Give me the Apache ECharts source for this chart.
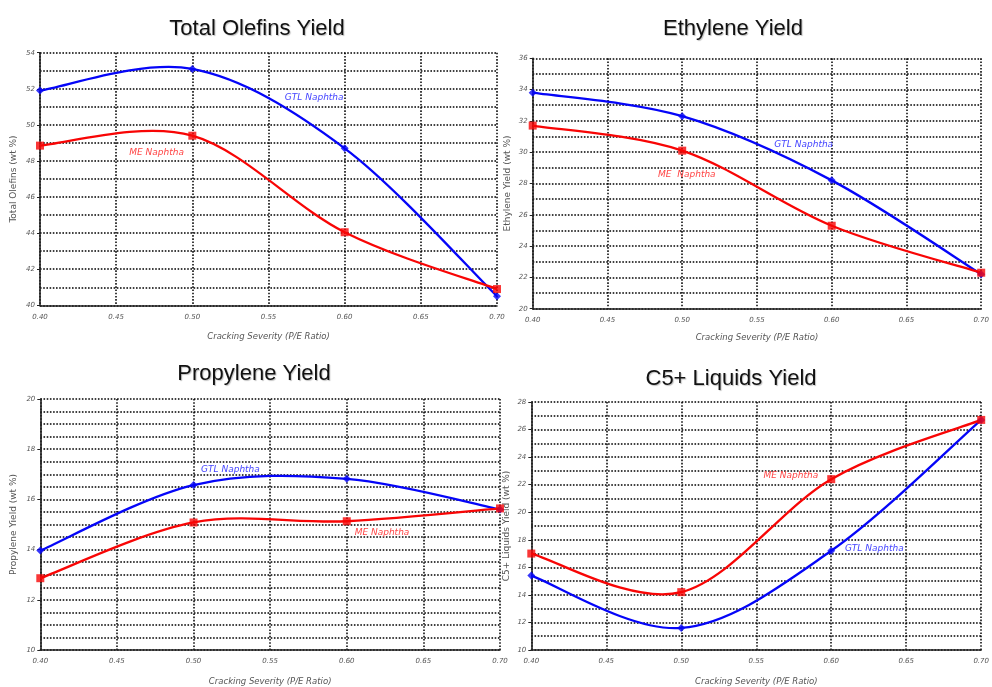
<!DOCTYPE html>
<html><head><meta charset="utf-8">
<script src="https://cdn.jsdelivr.net/npm/echarts@6/dist/echarts.min.js"></script>
<style>html,body{margin:0;padding:0;background:#fff}#c{width:992px;height:687px}</style>
</head><body><div id="c"></div>
<script>
// ---------------- data ----------------
const severity = [0.40, 0.50, 0.60, 0.70];
const seriesNames = ['GTL Naphtha', 'ME Naphtha'];

const olefinsGTL   = [51.9, 53.1, 48.7, 40.5];
const olefinsME    = [48.85, 49.4, 44.05, 40.9];
const ethyleneGTL  = [33.8, 32.3, 28.2, 22.2];
const ethyleneME   = [31.7, 30.1, 25.3, 22.3];
const propyleneGTL = [13.96, 16.57, 16.82, 15.6];
const propyleneME  = [12.86, 15.08, 15.13, 15.64];
const c5GTL        = [15.4, 11.6, 17.2, 26.7];
const c5ME         = [17.0, 14.2, 22.4, 26.7];

const titles = ['Total Olefins Yield', 'Ethylene Yield', 'Propylene Yield', 'C5+ Liquids Yield'];
const yNames = ['Total Olefins (wt %)', 'Ethylene Yield (wt %)', 'Propylene Yield (wt %)', 'C5+ Liquids Yield (wt %)'];
const xName = 'Cracking Severity (P/E Ratio)';
const meLabelText = ['ME Naphtha', 'ME  Naphtha', 'ME Naphtha', 'ME Naphtha'];

// ---------------- layout / style ----------------
const panels = [
  {gtl: olefinsGTL, me: olefinsME, ymin: 40, ymax: 54, ystep: 2, minor: 2,
   grid: {left: 40, top: 52.7, width: 457, height: 252.6},
   title: {x: 252, y: 13}, yGap: 22, xGap: 27,
   gtlLab: [0.580, 51.49], meLab: [0.4765, 48.46]},
  {gtl: ethyleneGTL, me: ethyleneME, ymin: 20, ymax: 36, ystep: 2, minor: 2,
   grid: {left: 532.7, top: 58.3, width: 454.3, height: 250.4},
   title: {x: 728, y: 13}, yGap: 21, xGap: 25,
   gtlLab: [0.5813, 30.46], meLab: [0.5031, 28.54]},
  {gtl: propyleneGTL, me: propyleneME, ymin: 10, ymax: 20, ystep: 2, minor: 4,
   grid: {left: 40.3, top: 399, width: 459.7, height: 254},
   title: {x: 249, y: 358}, yGap: 22, xGap: 27,
   gtlLab: [0.5241, 17.18], meLab: [0.623, 14.69]},
  {gtl: c5GTL, me: c5ME, ymin: 10, ymax: 28, ystep: 2, minor: 2,
   grid: {left: 531.3, top: 402, width: 455.7, height: 251.7},
   title: {x: 726, y: 363}, yGap: 20, xGap: 27,
   gtlLab: [0.6287, 17.34], meLab: [0.5731, 22.64]}
];

const BLUE = '#0505f8', RED = '#f80505';
const dotted = {color: '#000', type: [1.6, 1.6], width: 1.5};
const tickFont = {fontFamily: 'DejaVu Sans', fontStyle: 'italic', fontSize: 7, color: '#555'};

// smooth curve (Catmull-Rom style) through the data points, positioned by the axes
function curve(ys, color) {
  return function (params, api) {
    if (params.dataIndex !== 0) return null;
    const p = severity.map((x, k) => api.coord([x, ys[k]]));
    let d = 'M' + p[0][0] + ' ' + p[0][1];
    for (let i = 0; i < p.length - 1; i++) {
      const p0 = p[i - 1] || p[i], p1 = p[i], p2 = p[i + 1], p3 = p[i + 2] || p[i + 1];
      const c1x = p1[0] + (p2[0] - p0[0]) / 6, c1y = p1[1] + (p2[1] - p0[1]) / 6;
      const c2x = p2[0] - (p3[0] - p1[0]) / 6, c2y = p2[1] - (p3[1] - p1[1]) / 6;
      d += ' C' + c1x + ' ' + c1y + ' ' + c2x + ' ' + c2y + ' ' + p2[0] + ' ' + p2[1];
    }
    return {type: 'path', shape: {pathData: d}, style: {stroke: color, lineWidth: 2.3, fill: null}, silent: true};
  };
}

const option = {
  backgroundColor: '#fff',
  animation: false,
  title: panels.map((p, i) => ({
    text: titles[i], left: p.title.x, top: p.title.y, textAlign: 'center',
    textStyle: {fontFamily: 'Liberation Sans', fontSize: 22, fontWeight: 'normal', color: '#111',
      textShadowColor: 'rgba(0,0,0,0.25)', textShadowBlur: 1, textShadowOffsetX: 1, textShadowOffsetY: 1}
  })),
  grid: panels.map(p => Object.assign({containLabel: false}, p.grid)),
  xAxis: panels.map((p, i) => ({
    type: 'value', gridIndex: i, min: 0.4, max: 0.7, interval: 0.05,
    name: xName, nameLocation: 'middle', nameGap: p.xGap,
    nameTextStyle: {fontFamily: 'DejaVu Sans', fontStyle: 'italic', fontSize: 8.5, color: '#555'},
    axisLine: {show: true, lineStyle: {color: '#222', width: 1.6}},
    axisTick: {show: false},
    axisLabel: Object.assign({margin: 8, formatter: v => v.toFixed(2), showMaxLabel: true, showMinLabel: true}, tickFont),
    splitLine: {show: true, lineStyle: dotted}
  })),
  yAxis: panels.map((p, i) => ({
    type: 'value', gridIndex: i, min: p.ymin, max: p.ymax, interval: p.ystep,
    name: yNames[i], nameLocation: 'middle', nameGap: p.yGap,
    nameTextStyle: {fontFamily: 'DejaVu Sans', fontSize: 9, color: '#555'},
    axisLine: {show: true, lineStyle: {color: '#222', width: 1.6}},
    axisTick: {show: true, length: 3, lineStyle: {color: '#222'}},
    axisLabel: Object.assign({margin: 5}, tickFont),
    splitLine: {show: true, lineStyle: dotted},
    minorTick: {show: false, splitNumber: p.minor},
    minorSplitLine: {show: true, lineStyle: dotted}
  })),
  series: panels.flatMap((p, i) => [
    {
      type: 'custom', xAxisIndex: i, yAxisIndex: i, z: 3,
      data: severity.map((x, k) => [x, p.gtl[k]]),
      renderItem: curve(p.gtl, BLUE)
    },
    {
      type: 'custom', xAxisIndex: i, yAxisIndex: i, z: 3,
      data: severity.map((x, k) => [x, p.me[k]]),
      renderItem: curve(p.me, RED)
    },
    {
      name: seriesNames[0], type: 'scatter', xAxisIndex: i, yAxisIndex: i,
      data: severity.map((x, k) => [x, p.gtl[k]]),
      symbol: 'diamond', symbolSize: 8, z: 5, itemStyle: {color: BLUE},
      markPoint: {symbol: 'circle', symbolSize: 0, silent: true,
        label: {show: true, position: 'inside', formatter: seriesNames[0], fontFamily: 'DejaVu Sans',
          fontStyle: 'italic', fontSize: 9, color: '#4646ff'},
        data: [{coord: p.gtlLab}]}
    },
    {
      name: seriesNames[1], type: 'scatter', xAxisIndex: i, yAxisIndex: i,
      data: severity.map((x, k) => [x, p.me[k]]),
      symbol: 'rect', symbolSize: 8, z: 6, itemStyle: {color: RED},
      markPoint: {symbol: 'circle', symbolSize: 0, silent: true,
        label: {show: true, position: 'inside', formatter: meLabelText[i], fontFamily: 'DejaVu Sans',
          fontStyle: 'italic', fontSize: 9, color: '#ff4646'},
        data: [{coord: p.meLab}]}
    }
  ])
};

const chart = echarts.init(document.getElementById('c'), null, {renderer: 'canvas'});
chart.setOption(option);
</script>
</body></html>
